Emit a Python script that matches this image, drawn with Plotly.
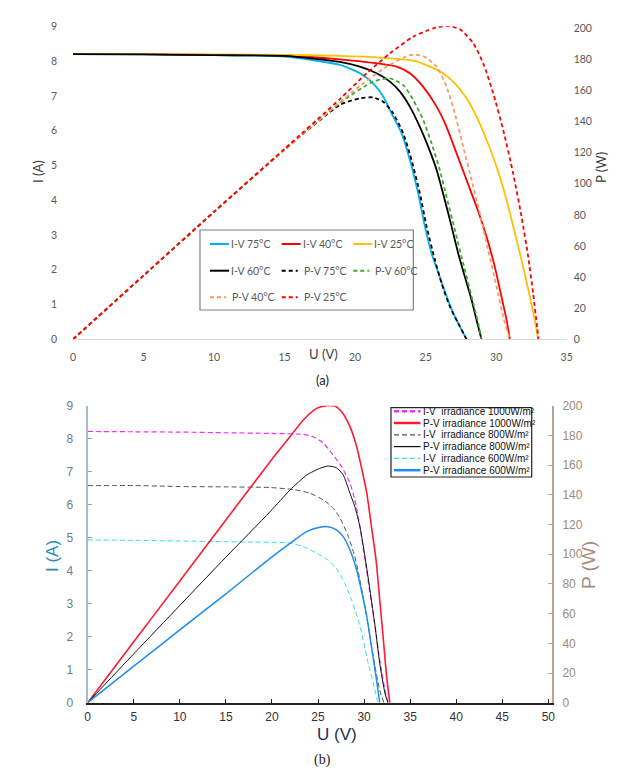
import plotly.graph_objects as go

W, H = 635, 776

# ---------------- (a) temperature data ----------------
u_iv75 = [0, 5, 10, 15, 18.92, 20.34, 21.28, 21.99, 22.7, 23.3, 23.88, 24.47, 24.95, 25.42, 26.0, 26.5, 27.07, 27.9]
i_iv75 = [8.2, 8.19, 8.17, 8.13, 7.89, 7.65, 7.36, 6.98, 6.4, 5.92, 5.16, 4.2, 3.24, 2.47, 1.8, 1.22, 0.65, 0]

u_iv60 = [0, 5, 10, 15, 18.92, 20.34, 21.52, 22.47, 23.18, 23.88, 24.59, 25.18, 25.78, 26.36, 26.84, 27.31, 27.78, 28.26, 28.61, 28.96]
i_iv60 = [8.2, 8.19, 8.17, 8.15, 7.98, 7.84, 7.65, 7.41, 7.12, 6.69, 6.11, 5.54, 4.87, 4.0, 3.24, 2.47, 1.8, 1.13, 0.55, 0]

u_iv40 = [0, 5, 10, 15, 18.92, 21.28, 22.94, 23.88, 24.83, 25.78, 26.48, 27.19, 27.9, 28.61, 29.32, 29.9, 30.38, 30.74, 30.97]
i_iv40 = [8.2, 8.2, 8.18, 8.16, 8.05, 7.95, 7.84, 7.65, 7.26, 6.69, 6.11, 5.35, 4.58, 3.81, 2.95, 2.09, 1.22, 0.55, 0]

u_iv25 = [0, 5, 10, 15, 18.92, 21.75, 24.12, 25.3, 26.24, 26.95, 27.9, 28.61, 29.32, 30.03, 30.74, 31.33, 31.91, 32.39, 32.74, 32.98]
i_iv25 = [8.2, 8.2, 8.19, 8.18, 8.15, 8.1, 8.01, 7.84, 7.65, 7.41, 6.93, 6.4, 5.73, 4.96, 4.0, 3.05, 2.09, 1.22, 0.55, 0]

u_pv75 = [0, 5, 10, 15, 18.92, 20.34, 21.28, 21.99, 22.7, 23.41, 24.0, 24.59, 25.07, 25.66, 26.13, 26.72, 27.31, 27.9]
p_pv75 = [0, 41, 82, 122, 150.7, 155, 155.6, 152.8, 145.3, 132.5, 115.3, 93.9, 72.4, 51, 36, 21, 10.3, 0]

u_pv60 = [0, 5, 10, 15, 18.92, 21.28, 22.47, 23.41, 24.12, 24.83, 25.42, 26.0, 26.48, 27.07, 27.66, 28.26, 28.73, 28.96]
p_pv60 = [0, 41, 82, 122, 152, 165.7, 167.8, 163.5, 153.9, 141, 126, 108.9, 91.7, 70.3, 48.9, 27.4, 10.3, 0]

u_pv40 = [0, 5, 10, 15, 20.34, 22.23, 23.88, 24.83, 25.78, 26.48, 27.07, 27.66, 28.26, 28.84, 29.43, 30.03, 30.5, 30.97]
p_pv40 = [0, 41, 82, 122, 163, 175.3, 182.8, 182.2, 175.3, 162.5, 145.3, 123.9, 102.4, 81.0, 57.4, 33.8, 14.5, 0]

u_pv25 = [0, 5, 10, 15, 18.92, 20.81, 22.47, 24.12, 25.54, 26.48, 27.43, 28.37, 29.08, 29.79, 30.5, 31.2, 31.8, 32.27, 32.62, 32.9, 33.0]
p_pv25 = [0, 41, 82, 122.5, 154.5, 171, 183.9, 194.6, 200, 201.5, 199.4, 190.4, 177.5, 158.2, 134.6, 106.8, 78.8, 53.1, 29.6, 8.1, 0]

names_a = ["I-V 75°C", "I-V 40°C", "I-V 25°C", "I-V 60°C",
           "P-V 75°C", "P-V 60°C", "P-V 40°C", "P-V 25°C"]

# ---------------- (b) irradiance data ----------------
u_iv1000 = [0, 5, 10, 15, 19.8, 23.4, 24.5, 25.6, 26.65, 27.57, 28.47, 29.0, 29.55, 30.1, 30.64, 31.2, 31.7, 32.27, 32.6]
i_iv1000 = [8.22, 8.21, 8.2, 8.18, 8.16, 8.13, 8.06, 7.86, 7.5, 7.15, 6.65, 6.14, 5.33, 4.32, 3.32, 2.3, 1.29, 0.38, 0]

u_iv800 = [0, 5, 8.5, 10, 15, 19.8, 22.3, 24.1, 25.6, 26.65, 27.4, 28.3, 29.0, 29.55, 30.1, 30.64, 31.2, 31.7, 32.16]
i_iv800 = [6.58, 6.58, 6.56, 6.55, 6.54, 6.52, 6.46, 6.35, 6.14, 5.89, 5.59, 5.03, 4.42, 3.72, 2.91, 2.0, 1.09, 0.38, 0]

u_iv600 = [0, 5, 10, 15, 19.8, 21.6, 23.4, 24.85, 26.1, 27.0, 27.9, 28.65, 29.37, 29.9, 30.45, 31.0, 31.5]
i_iv600 = [4.93, 4.92, 4.9, 4.88, 4.86, 4.85, 4.73, 4.53, 4.32, 4.07, 3.62, 3.11, 2.51, 1.9, 1.19, 0.59, 0]

u_pv1000 = [0, 5, 10, 15, 19.8, 21.96, 23.4, 24.85, 25.9, 26.84, 27.57, 28.47, 29.2, 29.7, 30.3, 30.8, 31.3, 31.7, 32.1, 32.45, 32.8]
p_pv1000 = [0, 41, 82, 123, 162.3, 179.1, 190.4, 198.2, 200, 199.8, 196, 185.9, 172.4, 158.9, 141, 118.5, 96.1, 69.2, 42.2, 17.5, 0]

u_pv800 = [0, 5, 10, 15, 19.8, 21.96, 23.77, 25.2, 26.1, 27.0, 27.74, 28.47, 29.0, 29.55, 30.1, 30.64, 31.2, 31.7, 32.27, 32.6]
p_pv800 = [0, 32.9, 65.5, 98, 128.6, 143.2, 153.3, 157.8, 159.4, 158.2, 153.3, 141, 132, 118.5, 98.3, 75.9, 51.2, 26.5, 6.3, 0]

u_pv600 = [0, 5, 10, 15, 19.8, 21.96, 23.77, 25.2, 26.1, 27.0, 27.74, 28.47, 29.2, 29.7, 30.3, 30.8, 31.3, 31.7]
p_pv600 = [0, 24.6, 49, 73.3, 97.2, 107.3, 115.2, 118.1, 118.5, 116.3, 111.8, 102.8, 89.4, 75.9, 57.9, 37.7, 17.5, 0]

names_b = ["I-V  irradiance 1000W/m²", "P-V irradiance 1000W/m²",
           "I-V  irradiance 800W/m²", "P-V irradiance 800W/m²",
           "I-V  irradiance 600W/m²", "P-V irradiance 600W/m²"]

x_ticks_a = [0, 5, 10, 15, 20, 25, 30, 35]
i_ticks = [0, 1, 2, 3, 4, 5, 6, 7, 8, 9]
p_ticks = [0, 20, 40, 60, 80, 100, 120, 140, 160, 180, 200]
x_ticks_b = [0, 5, 10, 15, 20, 25, 30, 35, 40, 45, 50]


def px(x):
    return x / W


def py(y):
    return (H - y) / H


fig = go.Figure()

FA = "Lato, 'Open Sans', sans-serif"
FB = "'Liberation Sans', Arial, sans-serif"

sty_a = [
    dict(color="#00b0f0", width=1.8, dash="solid"),
    dict(color="#ff0000", width=1.8, dash="solid"),
    dict(color="#ffc000", width=1.8, dash="solid"),
    dict(color="#000000", width=1.8, dash="solid"),
    dict(color="#000000", width=1.8, dash="4px,3px"),
    dict(color="#3caa2e", width=1.8, dash="4px,3px"),
    dict(color="#f79a66", width=1.8, dash="4px,3px"),
    dict(color="#ff0000", width=1.8, dash="4px,3px"),
]
data_a = [
    (u_iv75, i_iv75, "y"), (u_iv40, i_iv40, "y"), (u_iv25, i_iv25, "y"), (u_iv60, i_iv60, "y"),
    (u_pv75, p_pv75, "y2"), (u_pv60, p_pv60, "y2"), (u_pv40, p_pv40, "y2"), (u_pv25, p_pv25, "y2"),
]
for (xs, ys, ya), nm, st in zip(data_a, names_a, sty_a):
    fig.add_trace(go.Scatter(x=xs, y=ys, name=nm, mode="lines",
                             line=dict(shape="spline", smoothing=0.6, **st),
                             xaxis="x", yaxis=ya, showlegend=False))

sty_b = [
    dict(color="#ee33ee", width=1.2, dash="5px,3px"),
    dict(color="#ff1a33", width=1.6, dash="solid"),
    dict(color="#555555", width=1.0, dash="5px,3px"),
    dict(color="#111111", width=1.0, dash="solid"),
    dict(color="#33e0e0", width=1.0, dash="5px,3px"),
    dict(color="#1e8cf0", width=1.5, dash="solid"),
]
leg_w_b = [2.5, 2.5, 1.2, 1.2, 1.2, 2.5]
data_b = [
    (u_iv1000, i_iv1000, "y3"), (u_pv1000, p_pv1000, "y4"),
    (u_iv800, i_iv800, "y3"), (u_pv800, p_pv800, "y4"),
    (u_iv600, i_iv600, "y3"), (u_pv600, p_pv600, "y4"),
]
for (xs, ys, ya), nm, st in zip(data_b, names_b, sty_b):
    fig.add_trace(go.Scatter(x=xs, y=ys, name=nm, mode="lines",
                             line=dict(shape="spline", smoothing=0.6, **st),
                             xaxis="x2", yaxis=ya, showlegend=False))

shapes = []
annotations = []

# legend (a): 3-column framed key
shapes.append(dict(type="rect", xref="paper", yref="paper",
                   x0=px(200), x1=px(413.3), y0=py(310), y1=py(230),
                   line=dict(color="#808080", width=1.2), fillcolor="rgba(0,0,0,0)"))
col_x = [210, 281.7, 353.3]
row_y = [244, 270.7, 297.3]
for k, (nm, st) in enumerate(zip(names_a, sty_a)):
    r, c = divmod(k, 3)
    x0 = col_x[c]
    y0 = row_y[r]
    solid = st["dash"] == "solid"
    x1 = x0 + (19 if solid else 16)
    shapes.append(dict(type="line", xref="paper", yref="paper",
                       x0=px(x0), x1=px(x1), y0=py(y0), y1=py(y0),
                       line=dict(color=st["color"], width=2,
                                 dash="solid" if solid else "4px,3px")))
    annotations.append(dict(text=nm, xref="paper", yref="paper",
                            x=px(x0 + (19 if solid else 20)), y=py(y0),
                            xanchor="left", yanchor="middle", showarrow=False,
                            font=dict(family=FA, size=10.5, color="#595959")))

# legend (b)
shapes.append(dict(type="rect", xref="paper", yref="paper",
                   x0=px(391), x1=px(531.7), y0=py(477), y1=py(407.7),
                   line=dict(color="#222222", width=1.2), fillcolor="white"))
rows_b = [411.2, 423.0, 434.8, 446.6, 458.4, 470.2]
for k, (nm, st) in enumerate(zip(names_b, sty_b)):
    y0 = rows_b[k]
    shapes.append(dict(type="line", xref="paper", yref="paper",
                       x0=px(394), x1=px(420.5), y0=py(y0), y1=py(y0),
                       line=dict(color=st["color"], width=leg_w_b[k],
                                 dash="solid" if st["dash"] == "solid" else "5px,3px")))
    annotations.append(dict(text=nm, xref="paper", yref="paper",
                            x=px(421), y=py(y0), xanchor="left", yanchor="middle",
                            showarrow=False,
                            font=dict(family=FB, size=10, color="#111111")))


def label(text, x, y, size, color, family, angle=0):
    return dict(text=text, x=px(x), y=py(y), xref="paper", yref="paper",
                xanchor="center", yanchor="middle", showarrow=False,
                textangle=angle, font=dict(family=family, size=size, color=color))


annotations += [
    label("U (V)", 323, 354, 13, "#404040", FA),
    label("I (A)", 38, 172, 13, "#404040", FA, -90),
    label("P (W)", 601, 168, 13, "#404040", FA, -90),
    label("(a)", 322, 380, 13, "#222222", FA),
    label("U (V)", 337, 734, 17, "#1d2f4f", FB),
    label("I (A)", 52, 556, 17, "#2b8bbd", FB, -90),
    label("P (W)", 588, 565, 19, "#a68c78", FB, -90),
    label("(b)", 322, 760, 14, "#222222", "'Liberation Serif', 'DejaVu Serif', serif"),
]

common = dict(automargin=False, showgrid=False, zeroline=False)

fig.update_layout(
    template="none",
    width=W, height=H, autosize=False,
    margin=dict(l=0, r=0, t=0, b=0, pad=0, autoexpand=False),
    paper_bgcolor="white", plot_bgcolor="rgba(0,0,0,0)",
    showlegend=False,
    shapes=shapes, annotations=annotations,
    xaxis=dict(domain=[px(73), px(566.7)], range=[0, 35], tickvals=x_ticks_a,
               showline=True, linecolor="#d9d9d9", linewidth=1, ticks="",
               anchor="y", ticklabelstandoff=8,
               tickfont=dict(family=FA, size=10.5, color="#595959"), **common),
    yaxis=dict(domain=[py(339.3), py(26.3)], range=[0, 9], tickvals=i_ticks,
               showline=False, ticks="", anchor="x", ticklabelstandoff=15,
               tickfont=dict(family=FA, size=10.5, color="#595959"), **common),
    yaxis2=dict(overlaying="y", side="right", range=[0, 201.3], tickvals=p_ticks,
                showline=False, ticks="", anchor="x", ticklabelstandoff=6,
                tickfont=dict(family=FA, size=10.5, color="#595959"), **common),
    xaxis2=dict(domain=[px(87.7), px(552)], range=[0, 50.4], tickvals=x_ticks_b,
                showline=True, linecolor="#222222", linewidth=1.5, ticks="inside",
                ticklen=4, tickcolor="#222222", anchor="y3", ticklabelstandoff=2,
                tickfont=dict(family=FB, size=12, color="#333333"), **common),
    yaxis3=dict(domain=[py(702.7), py(405.7)], range=[0, 9], tickvals=i_ticks,
                showline=True, linecolor="#a9bcc6", linewidth=2, ticks="inside",
                ticklen=4, tickcolor="#8da2ad", anchor="x2", ticklabelstandoff=10,
                tickfont=dict(family=FB, size=12, color="#6f7d86"), **common),
    yaxis4=dict(overlaying="y3", side="right", range=[0, 200], tickvals=p_ticks,
                showline=True, linecolor="#b8a494", linewidth=2, ticks="inside",
                ticklen=4, tickcolor="#b8a494", anchor="x2", ticklabelstandoff=6,
                tickfont=dict(family=FB, size=12, color="#a08a78"), **common),
)

# remove the browser's default 8px page margin so the 635x776 figure fills the window
fig.write_html("out.html", config={"displayModeBar": False},
               post_script="document.body.style.margin='0px';")
